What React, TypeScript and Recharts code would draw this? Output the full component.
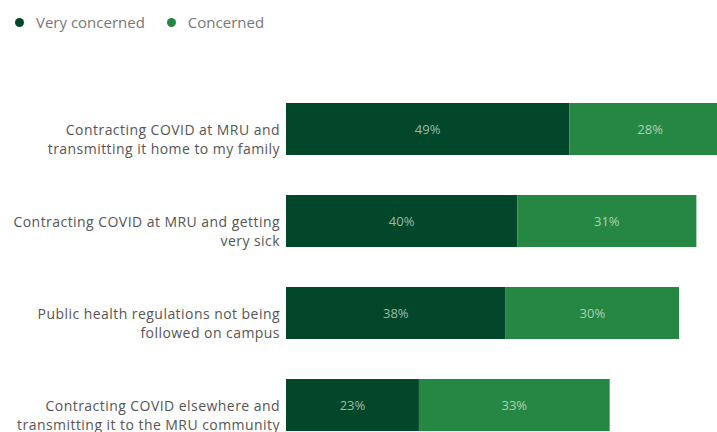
import React from 'react';
import { BarChart, Bar, XAxis, YAxis, LabelList } from 'recharts';

// concern categories, two lines each as in the source
const categories = [
    'Contracting COVID at MRU and|transmitting it home to my family',
    'Contracting COVID at MRU and getting|very sick',
    'Public health regulations not being|followed on campus',
    'Contracting COVID elsewhere and|transmitting it to the MRU community',
];
const veryConcerned = [49, 40, 38, 23];
const concerned = [28, 31, 30, 33];

const DARK = '#03472b';
const LIGHT = '#268745';
const FONT = '"Open Sans", "Noto Sans", sans-serif';

const data = categories.map((c, i) => ({
    name: c,
    very: veryConcerned[i],
    conc: concerned[i],
}));

const CategoryTick = (props: any) => {
    const { x, y, payload } = props;
    const lines: string[] = String(payload.value).split('|');
    return (
        <text x={x} y={y} textAnchor='end' fill='#555' fontSize={14} letterSpacing={0.45} fontFamily={FONT}>
            {lines.map((l, i) => (
                <tspan key={i} x={x} dy={i === 0 ? 5.5 : 19}>{l}</tspan>
            ))}
        </text>
    );
};

const dot = (c: string) => (
    <span style={{ width: 9, height: 9, borderRadius: '50%', background: c, display: 'inline-block', marginRight: 12 }} />
);

const pct = (v: any) => v + '%';

export default function App() {
    return (
        <div style={{ position: 'fixed', left: 0, top: 0, width: 717, height: 432, overflow: 'hidden', background: '#fff' }}>
            <div style={{
                position: 'absolute', left: 15, top: 12, display: 'flex', alignItems: 'center',
                fontFamily: FONT, fontSize: 15, color: '#777',
            }}>
                {dot(DARK)}
                <span style={{ marginRight: 22 }}>Very concerned</span>
                {dot(LIGHT)}
                <span>Concerned</span>
            </div>
            <BarChart
                width={864}
                height={460}
                data={data}
                layout='vertical'
                margin={{ top: 83, right: 0, bottom: 9, left: 0 }}
            >
                <XAxis type='number' domain={[0, 100]} hide />
                <YAxis
                    type='category'
                    dataKey='name'
                    width={286}
                    axisLine={false}
                    tickLine={false}
                    tickSize={0}
                    tickMargin={6}
                    interval={0}
                    tick={<CategoryTick />}
                />
                <Bar dataKey='very' stackId='a' fill={DARK} barSize={52} isAnimationActive={false}>
                    <LabelList dataKey='very' position='center' formatter={pct} fill='#9fb9a7' fontSize={13} fontFamily={FONT} />
                </Bar>
                <Bar dataKey='conc' stackId='a' fill={LIGHT} barSize={52} isAnimationActive={false}>
                    <LabelList dataKey='conc' position='center' formatter={pct} fill='#a9d2b3' fontSize={13} fontFamily={FONT} />
                </Bar>
            </BarChart>
        </div>
    );
}
